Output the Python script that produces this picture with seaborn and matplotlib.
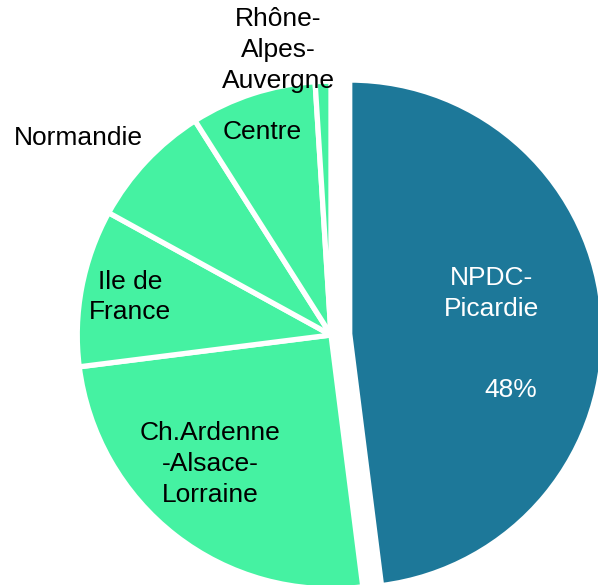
import matplotlib
matplotlib.use("Agg")
import matplotlib.pyplot as plt
import seaborn as sns

# data
regions = ["NPDC-\nPicardie", "Ch.Ardenne\n-Alsace-\nLorraine", "Ile de\nFrance",
           "Normandie", "Centre", "Rhône-\nAlpes-\nAuvergne"]
shares = [48, 25, 10, 8, 8, 1]
show_pct = [True, False, False, False, False, False]

# styling / layout
dark = "#1d7899"
green = "#45f2a2"
colors = [dark] + [green] * 5
explode = [0.075, 0, 0, 0, 0, 0]
# where each label sits (data units, pie radius ~ 1)
label_pos = [(0.64, 0.165), (-0.484, -0.516), (-0.804, 0.152),
             (-1.012, 0.788), (-0.276, 0.812), (-0.212, 1.14)]
pct_pos = (0.718, -0.22)
text_colors = ["white", "black", "black", "black", "black", "black"]

sns.set_style("white")
plt.rcParams["font.family"] = ["Liberation Sans", "DejaVu Sans"]

fig = plt.figure(figsize=(5.98, 5.85), dpi=100)
ax = fig.add_axes([0, 0, 1, 1])

wedges, _ = ax.pie(
    shares,
    colors=colors,
    explode=explode,
    startangle=90,
    counterclock=False,
    radius=1.015,
    wedgeprops=dict(edgecolor="white", linewidth=3.8),
)

for name, pos, col in zip(regions, label_pos, text_colors):
    ax.text(pos[0], pos[1], name, ha="center", va="center", fontsize=19,
            color=col, linespacing=1.35)

for share, flag in zip(shares, show_pct):
    if flag:
        ax.text(pct_pos[0], pct_pos[1], f"{share}%", ha="center", va="center",
                fontsize=19, color="white")

ax.set_xlim(-1.324, 1.068)
ax.set_ylim(-1.0, 1.34)
ax.set_aspect("equal")
ax.axis("off")

fig.savefig("out.png", dpi=100)
